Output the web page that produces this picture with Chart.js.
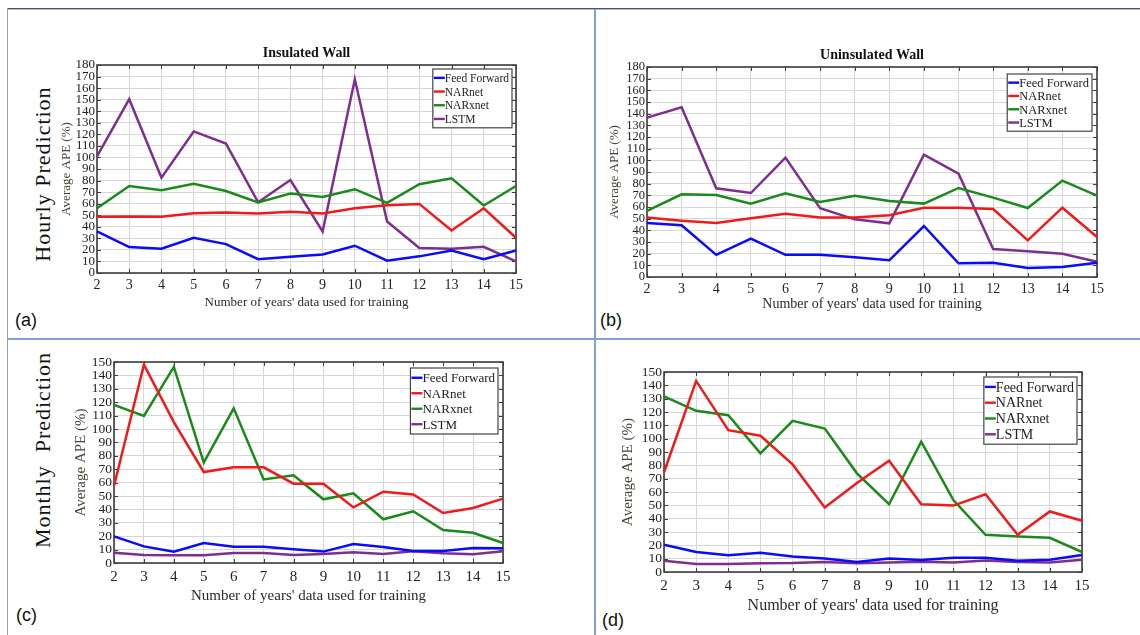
<!DOCTYPE html>
<html>
<head>
<meta charset="utf-8">
<script src="https://cdn.jsdelivr.net/npm/chart.js@4.4.0/dist/chart.umd.min.js"></script>
<style>
body { margin: 0; background: #fff; }
#page { position: relative; width: 1140px; height: 635px; overflow: hidden; background: #fff; }
canvas { position: absolute; }
.rule { position: absolute; }
.side { position: absolute; font-family: "Liberation Serif", serif; font-size: 22px; letter-spacing: 1px; color: #111;
        white-space: nowrap; transform: translate(-50%, -50%) rotate(-90deg); }
.tag { position: absolute; font-family: "Liberation Sans", "Open Sans", sans-serif; font-size: 18px; color: #111; }
</style>
</head>
<body>
<div id="page">
  <div class="rule" style="left:7px;top:8px;width:1133px;height:1px;background:#4a5470"></div>
  <div class="rule" style="left:7px;top:9px;width:1133px;height:1px;background:#b4bac6"></div>
  <div class="rule" style="left:7px;top:8px;width:1px;height:627px;background:#9aa0aa"></div>
  <div class="rule" style="left:594px;top:9px;width:2px;height:626px;background:#82a0d6"></div>
  <div class="rule" style="left:7px;top:338px;width:1133px;height:2px;background:#82a0d6"></div>

  <div class="side" style="left:43px;top:174px">Hourly Prediction</div>
  <div class="side" style="left:43px;top:450px">Monthly&nbsp; Prediction</div>

  <div class="tag" style="left:15px;top:310px">(a)</div>
  <div class="tag" style="left:600px;top:310px">(b)</div>
  <div class="tag" style="left:16px;top:605px">(c)</div>
  <div class="tag" style="left:602px;top:610px">(d)</div>

  <canvas id="ca"></canvas>
  <canvas id="cb"></canvas>
  <canvas id="cc"></canvas>
  <canvas id="cd"></canvas>
</div>
<script>
const years = ['2', '3', '4', '5', '6', '7', '8', '9', '10', '11', '12', '13', '14', '15'];
const seriesNames = ['Feed Forward', 'NARnet', 'NARxnet', 'LSTM'];

// (a) hourly, insulated wall
const hourInsFF   = [36, 22.4, 21, 30.5, 25, 12, 14, 16, 23.6, 10.6, 14.4, 19.5, 12, 19.5];
const hourInsNAR  = [48.6, 49, 48.6, 51.8, 52.3, 51.5, 53, 51.5, 56, 58.7, 59.8, 36.8, 56, 30.5];
const hourInsNARX = [56, 75.3, 71.6, 77.3, 71, 61, 68.7, 65.8, 72.5, 60.7, 76.8, 82, 58.4, 75.3];
const hourInsLSTM = [101, 150.4, 82.5, 122.5, 112, 61.2, 80.5, 36, 167.6, 44.6, 21.6, 21, 22.7, 10];

// (b) hourly, uninsulated wall
const hourUnFF   = [46.3, 44.3, 19, 32.9, 19, 19, 17, 14.3, 43.7, 11.7, 12.3, 7.7, 8.6, 12.3];
const hourUnNAR  = [50.9, 48.3, 46.3, 50.3, 54.3, 50.9, 50.9, 52.9, 59.4, 59.4, 58.3, 31.4, 59.4, 34.3];
const hourUnNARX = [56.6, 70.9, 70.3, 62.9, 71.7, 64.3, 69.7, 65.1, 62.9, 76.3, 68, 59.1, 82.6, 69.7];
const hourUnLSTM = [136.6, 145.4, 76, 72, 102.3, 58.9, 49.4, 46, 104.9, 88.6, 24, 22, 20, 13.1];

// (c) monthly, insulated wall
const monInsFF   = [19.9, 12.4, 8.5, 14.9, 12.2, 12.2, 10.2, 8.5, 14.2, 11.9, 9, 9, 11.2, 11];
const monInsNAR  = [57.5, 148, 105.2, 67.9, 71.4, 71.4, 59.2, 59.2, 41.5, 53.2, 51.2, 37.3, 41, 48];
const monInsNARX = [118, 109.7, 146.3, 74.9, 115.4, 62.4, 65.4, 47.5, 52, 32.6, 38.6, 24.6, 22.6, 14.9];
const monInsLSTM = [7.7, 6, 5.7, 5.7, 7.5, 7.5, 6, 6.7, 8, 6.7, 8.7, 7.2, 6.5, 8.7];

// (d) monthly, uninsulated wall
const monUnFF   = [20.4, 15, 12.5, 14.5, 11.7, 10.2, 7.5, 10.2, 9, 10.7, 10.7, 8.5, 9.2, 12.7];
const monUnNAR  = [74.8, 143.3, 106.4, 102.2, 80.7, 48.3, 66.8, 83.5, 50.8, 49.8, 58.3, 27.9, 45.4, 38.4];
const monUnNARX = [131.8, 120.9, 117.6, 89, 113.4, 107.6, 74, 50.8, 97.7, 54, 27.9, 26.7, 25.7, 15];
const monUnLSTM = [8.5, 6, 6, 6.5, 6.7, 7.5, 6.5, 7.2, 7.7, 7.2, 8.7, 7.5, 7.2, 9.2];

const seriesColors = ['#0a0aff', '#f01a1a', '#1a8a1a', '#7e2f8e'];
const SERIF = '"Liberation Serif", "DejaVu Serif", serif';

// frame, inward ticks, title and the boxed legend inside the plot
const panelDeco = {
  id: 'panelDeco',
  beforeDatasetsDraw(chart, args, o) {
    const ctx = chart.ctx, a = chart.chartArea;
    ctx.save();
    ctx.strokeStyle = '#3c3c3c';
    ctx.lineWidth = 1;
    chart.scales.x.ticks.forEach((t, i) => {
      const px = Math.round(chart.scales.x.getPixelForTick(i)) + 0.5;
      ctx.beginPath();
      ctx.moveTo(px, a.top); ctx.lineTo(px, a.top + 4);
      ctx.moveTo(px, a.bottom); ctx.lineTo(px, a.bottom - 4);
      ctx.stroke();
    });
    chart.scales.y.ticks.forEach((t, i) => {
      const py = Math.round(chart.scales.y.getPixelForTick(i)) + 0.5;
      ctx.beginPath();
      ctx.moveTo(a.left, py); ctx.lineTo(a.left + 4, py);
      ctx.moveTo(a.right, py); ctx.lineTo(a.right - 4, py);
      ctx.stroke();
    });
    ctx.lineWidth = 1.6;
    ctx.strokeRect(a.left, a.top, a.right - a.left, a.bottom - a.top);
    ctx.restore();
  },
  afterDraw(chart, args, o) {
    const ctx = chart.ctx, a = chart.chartArea;
    ctx.save();
    if (o.title) {
      ctx.font = 'bold ' + o.titleSize + 'px ' + SERIF;
      ctx.fillStyle = '#111';
      ctx.textAlign = 'center';
      ctx.textBaseline = 'bottom';
      ctx.fillText(o.title, (a.left + a.right) / 2, a.top - 5);
    }
    ctx.font = o.legendSize + 'px ' + SERIF;
    const sets = chart.data.datasets;
    const tw = Math.max(...sets.map(d => ctx.measureText(d.label).width));
    const w = 13 + tw + 2, h = o.rowH * sets.length + 4;
    const x = a.right - o.gapR - w, y = a.top + o.gapT;
    ctx.fillStyle = '#fff';
    ctx.fillRect(x, y, w, h);
    ctx.strokeStyle = '#444';
    ctx.lineWidth = 1.2;
    ctx.strokeRect(x, y, w, h);
    ctx.textAlign = 'left';
    ctx.textBaseline = 'middle';
    sets.forEach((d, i) => {
      const yy = y + 2 + o.rowH * (i + 0.5);
      ctx.strokeStyle = d.borderColor;
      ctx.lineWidth = 2.4;
      ctx.beginPath(); ctx.moveTo(x + 1, yy); ctx.lineTo(x + 12, yy); ctx.stroke();
      ctx.fillStyle = '#222';
      ctx.fillText(d.label, x + 12, yy + 1);
    });
    ctx.restore();
  }
};

function makePanel(id, p, series) {
  const [L, T, W, H] = p.rect;
  const [cl, ct, cr, cb] = p.area;
  const cv = document.getElementById(id);
  cv.style.left = L + 'px';
  cv.style.top = T + 'px';
  cv.width = W;
  cv.height = H;
  return new Chart(cv, {
    type: 'line',
    data: {
      labels: years,
      datasets: series.map((d, i) => ({
        label: seriesNames[i], data: d, borderColor: seriesColors[i],
        borderWidth: 2.5, pointRadius: 0, tension: 0, fill: false
      }))
    },
    options: {
      responsive: false, animation: false, devicePixelRatio: 1,
      layout: { padding: { left: 0, top: ct - T, right: L + W - cr, bottom: 0 } },
      plugins: {
        legend: { display: false },
        tooltip: { enabled: false },
        panelDeco: { title: p.title, titleSize: 14, legendSize: p.legSize, rowH: p.rowH, gapR: p.legGap[0], gapT: p.legGap[1] }
      },
      scales: {
        x: {
          grid: { color: '#d6d6d6', drawTicks: false },
          border: { display: false },
          ticks: { font: { family: SERIF, size: p.xTick }, color: '#222', padding: p.xTickPad, maxRotation: 0, autoSkip: false },
          title: { display: true, text: "Number of years' data used for training",
                   font: { family: SERIF, size: p.xTitle }, color: '#2a2a2a', padding: { top: 0, bottom: p.xTitlePad } },
          afterFit: s => { s.height = T + H - cb; }
        },
        y: {
          min: 0, max: p.yMax,
          grid: { color: '#d6d6d6', drawTicks: false },
          border: { display: false },
          ticks: { stepSize: 10, autoSkip: false, font: { family: SERIF, size: p.yTick }, color: '#222', padding: 2 },
          title: { display: true, text: 'Average APE (%)', font: { family: SERIF, size: p.yTitle },
                   color: '#4a4438', padding: { top: p.yTitlePad, bottom: 0 } },
          afterFit: s => { s.width = cl - L; }
        }
      }
    },
    plugins: [panelDeco]
  });
}

makePanel('ca', { rect: [56, 30, 534, 285], area: [97, 65, 516, 273], yMax: 180, title: 'Insulated Wall',
  legSize: 11.5, rowH: 13.7, legGap: [4, 4], xTick: 14, xTickPad: 4, xTitle: 13, xTitlePad: 5, yTick: 13, yTitle: 13, yTitlePad: 3 },
  [hourInsFF, hourInsNAR, hourInsNARX, hourInsLSTM]);

makePanel('cb', { rect: [607, 30, 531, 288], area: [647, 67, 1097, 277], yMax: 180, title: 'Uninsulated Wall',
  legSize: 12.5, rowH: 13.3, legGap: [5, 7], xTick: 14, xTickPad: 4, xTitle: 14, xTitlePad: 5, yTick: 12.5, yTitle: 13, yTitlePad: 0 },
  [hourUnFF, hourUnNAR, hourUnNARX, hourUnLSTM]);

makePanel('cc', { rect: [72, 345, 518, 265], area: [114, 362, 503, 563], yMax: 150, title: '',
  legSize: 13, rowH: 15.5, legGap: [5, 6], xTick: 15, xTickPad: 5, xTitle: 15, xTitlePad: 5, yTick: 13.5, yTitle: 15, yTitlePad: 0 },
  [monInsFF, monInsNAR, monInsNARX, monInsLSTM]);

makePanel('cd', { rect: [619, 345, 519, 275], area: [664, 372, 1082, 572], yMax: 150, title: '',
  legSize: 14, rowH: 15.8, legGap: [5, 5], xTick: 15, xTickPad: 5, xTitle: 16, xTitlePad: 5, yTick: 13.5, yTitle: 15, yTitlePad: 0 },
  [monUnFF, monUnNAR, monUnNARX, monUnLSTM]);
</script>
</body>
</html>
